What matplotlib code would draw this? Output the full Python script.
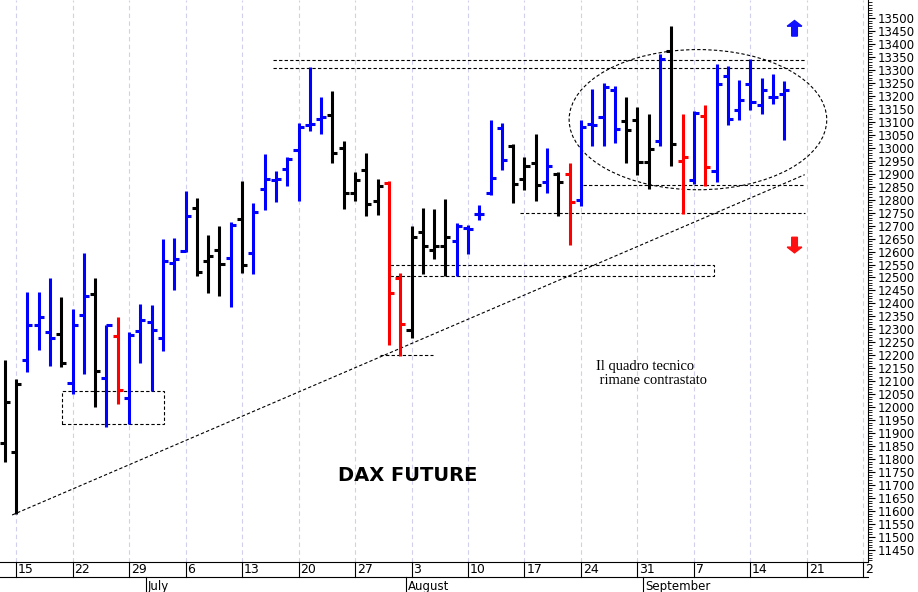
import matplotlib
matplotlib.use('Agg')
import numpy as np
from matplotlib import pyplot
from matplotlib.patches import Ellipse, Rectangle, FancyArrow
from matplotlib.ticker import MultipleLocator

# trading-day index (0 = June 15), OHLC and bar colour code
idx = list(range(-1, 69))
opens = [11861, 11827, 12182, 12317, 12289, 12283, 12093, 12356, 12437, 12112,
         12275, 12035, 12294, 12330, 12266, 12555, 12603, 12767, 12562, 12606,
         12577, 12725, 12594, 12840, 12874, 12917, 12990, 13088, 13110, 13127,
         12998, 12825, 12915, 12793, 12863, 12497, 12298, 12677, 12606, 12622,
         12642, 12690, 12745, 12827, 13075, 13005, 12879, 12940, 12866, 12899,
         12900, 12800, 13093, 13117, 13221, 13102, 13105, 12945, 13024, 13374,
         12947, 12874, 13123, 12909, 13275, 13144, 13247, 13166, 13195, 13208]
highs = [12182, 12108, 12443, 12443, 12497, 12424, 12379, 12596, 12497, 12317,
         12346, 12289, 12398, 12394, 12648, 12651, 12835, 12808, 12664, 12699,
         12712, 12870, 12786, 12975, 12912, 12966, 13095, 13309, 13195, 13217,
         13024, 12908, 12979, 12879, 12870, 12519, 12699, 12767, 12763, 12802,
         12709, 12703, 12780, 13105, 13095, 13015, 12964, 13054, 12998, 12908,
         12941, 13108, 13226, 13249, 13236, 13195, 13157, 13131, 13361, 13468,
         13130, 13143, 13163, 13323, 13314, 13260, 13343, 13269, 13284, 13258]
lows = [11791, 11589, 12134, 12221, 12159, 12157, 12050, 12128, 12000, 11925,
        12013, 11936, 12170, 12064, 12217, 12452, 12600, 12504, 12439, 12430,
        12385, 12519, 12514, 12761, 12789, 12853, 12793, 13063, 13052, 12940,
        12764, 12795, 12735, 12741, 12240, 12198, 12266, 12514, 12570, 12506,
        12506, 12590, 12722, 12818, 12915, 12786, 12838, 12793, 12825, 12735,
        12626, 12776, 13005, 13005, 13018, 12941, 12893, 12842, 13005, 12931,
        12746, 12861, 12851, 12866, 13089, 13108, 13146, 13131, 13170, 13031]
closes = [12019, 12089, 12317, 12346, 12266, 12172, 12317, 12430, 12140, 12317,
          12067, 12279, 12337, 12298, 12565, 12570, 12735, 12523, 12581, 12551,
          12703, 12549, 12754, 12880, 12880, 12956, 13080, 13092, 13120, 12979,
          12825, 12876, 12782, 12851, 12439, 12321, 12655, 12622, 12622, 12655,
          12699, 12686, 12745, 12883, 12953, 12861, 12928, 12857, 12931, 12867,
          12789, 13080, 13089, 13234, 13073, 13067, 12945, 12995, 13343, 13014,
          12963, 13134, 12924, 13247, 13111, 13182, 13175, 13224, 13195, 13224]
codes = list('kkbbbkbbkbrbbbbbbkkkbkbbbbbbbkkkkkrrkkkkbbbbbkkkbkrbbbbkkkbkrbrbbbbbbb')

week_idx = list(range(0, 80, 5))
week_labels = ['15', '22', '29', '6', '13', '20', '27', '3', '10', '17',
               '24', '31', '7', '14', '21', '2']
month_idx = [11.5, 34.5, 55.5]
month_labels = ['July', 'August', 'September']

cmap = {'b': '#0000ff', 'k': 'black', 'r': '#ff0000'}

fig = pyplot.figure(figsize=(9.18, 5.92), dpi=100)
ax = fig.add_axes([0.0, 0.0507, 0.9455, 0.9493])
xmin, xmax = -1.42, 75.4
ax.set_xlim(xmin, xmax)
ax.set_ylim(11404, 13569)

for m in week_idx:
    ax.axvline(m, color='#d0d0ee', ls=(0, (4, 3)), lw=0.8, zorder=0)

for i, o, h, l, c, k in zip(idx, opens, highs, lows, closes, codes):
    col = cmap[k]
    ax.vlines(i, l, h, color=col, lw=2.2, zorder=3)
    ax.hlines(o, i - 0.45, i, color=col, lw=2.2, zorder=3)
    ax.hlines(c, i, i + 0.45, color=col, lw=2.2, zorder=3)

dash = dict(color='black', ls=(0, (3, 2)), lw=0.8, zorder=2)
ax.hlines([13339, 13308], 22.7, 69.8, **dash)
ax.hlines(12855, 50.2, 69.8, **dash)
ax.hlines(12750, 44.6, 69.8, **dash)
ax.hlines(12202, 32.2, 36.9, **dash)
ax.add_patch(Rectangle((33.1, 12507), 28.7, 42, fill=False, **dash))
ax.add_patch(Rectangle((4.1, 11936), 9.0, 127, fill=False, **dash))
ax.plot([-0.35, 69.8], [11585, 12896], **dash)
ax.add_patch(Ellipse((60.35, 13108), 22.8, 540, fill=False, **dash))

ax.text(34.7, 11738, 'DAX FUTURE', ha='center', va='center',
        fontsize=14, fontweight='bold')
ax.text(51.3, 12130, 'Il quadro tecnico\n rimane contrastato', ha='left',
        va='center', fontsize=10.5, family='Liberation Serif', linespacing=1.1)

ax.add_patch(FancyArrow(68.9, 13430, 0, 38, width=0.5, head_width=1.3,
                        head_length=22, color='#1010ff', zorder=4))
ax.add_patch(FancyArrow(68.9, 12655, 0, -38, width=0.5, head_width=1.3,
                        head_length=22, color='#ff1010', zorder=4))

ax.yaxis.tick_right()
ax.yaxis.set_minor_locator(MultipleLocator(10))
ax.set_yticks(np.arange(11450, 13501, 50))
ax.tick_params(axis='y', which='major', length=5, labelsize=8.5, pad=2)
ax.tick_params(axis='y', which='minor', length=3)
ax.set_xticks([])
for s in ['top', 'left']:
    ax.spines[s].set_visible(False)

# date row and month row below axis
trans = ax.get_xaxis_transform()
for m, lab in zip(week_idx, week_labels):
    ax.plot([m, m], [0, -0.027], color='black', lw=0.8, transform=trans, clip_on=False)
    ax.text(m + 0.15, -0.013, lab, ha='left', va='center', fontsize=9,
            transform=trans, clip_on=False)
ax.plot([xmin, xmax], [-0.027, -0.027], color='black', lw=0.8, transform=trans, clip_on=False)
for m, lab in zip(month_idx, month_labels):
    ax.plot([m, m], [-0.027, -0.06], color='black', lw=0.8, transform=trans, clip_on=False)
    ax.text(m + 0.15, -0.043, lab, ha='left', va='center', fontsize=8.5,
            transform=trans, clip_on=False)

fig.savefig('out.png', dpi=100)
